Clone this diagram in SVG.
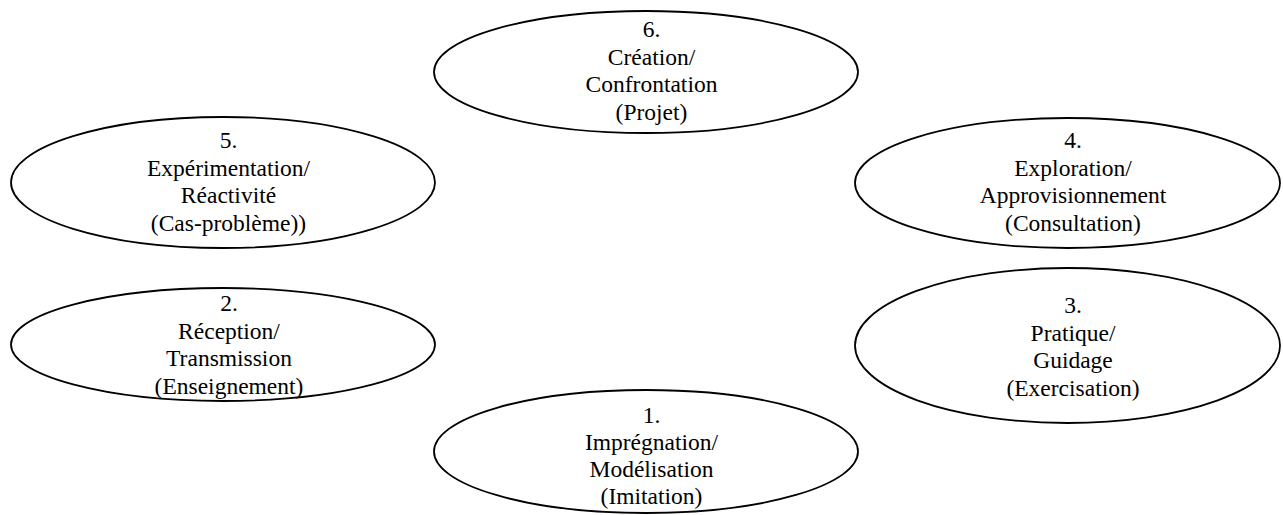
<svg xmlns="http://www.w3.org/2000/svg" width="1283" height="515" viewBox="0 0 1283 515">
<style>
.n ellipse{fill:none;stroke:#000;stroke-width:1.8}
.n text{font-size:23.5px;fill:#000;text-anchor:middle}
</style>
<rect width="1283" height="515" fill="#fff"/>
<g id="connectors"></g>
<g font-family="'Liberation Serif', 'Times New Roman', 'DejaVu Serif', serif">
<g id="n6" class="n">
<ellipse cx="646" cy="72" rx="212" ry="61"/>
<text x="651.5" y="37">6.</text>
<text x="651.5" y="64.5">Création/</text>
<text x="651.5" y="92">Confrontation</text>
<text x="651.5" y="119.5">(Projet)</text>
</g>
<g id="n5" class="n">
<ellipse cx="223" cy="182.5" rx="212" ry="65.5"/>
<text x="228.5" y="148">5.</text>
<text x="228.5" y="175.5">Expérimentation/</text>
<text x="228.5" y="203">Réactivité</text>
<text x="228.5" y="230.5">(Cas-problème))</text>
</g>
<g id="n4" class="n">
<ellipse cx="1067.5" cy="183" rx="212.5" ry="65"/>
<text x="1073" y="148">4.</text>
<text x="1073" y="175.5">Exploration/</text>
<text x="1073" y="203">Approvisionnement</text>
<text x="1073" y="230.5">(Consultation)</text>
</g>
<g id="n2" class="n">
<ellipse cx="223" cy="344.5" rx="212" ry="56.5"/>
<text x="229" y="311">2.</text>
<text x="229" y="338.5">Réception/</text>
<text x="229" y="366">Transmission</text>
<text x="229" y="393.5">(Enseignement)</text>
</g>
<g id="n3" class="n">
<ellipse cx="1067.5" cy="345.5" rx="212.5" ry="77.5"/>
<text x="1073" y="313">3.</text>
<text x="1073" y="340.5">Pratique/</text>
<text x="1073" y="368">Guidage</text>
<text x="1073" y="395.5">(Exercisation)</text>
</g>
<g id="n1" class="n">
<ellipse cx="646" cy="451.5" rx="212" ry="61.5"/>
<text x="651.5" y="423">1.</text>
<text x="651.5" y="450">Imprégnation/</text>
<text x="651.5" y="477">Modélisation</text>
<text x="651.5" y="504">(Imitation)</text>
</g>
</g>
</svg>
